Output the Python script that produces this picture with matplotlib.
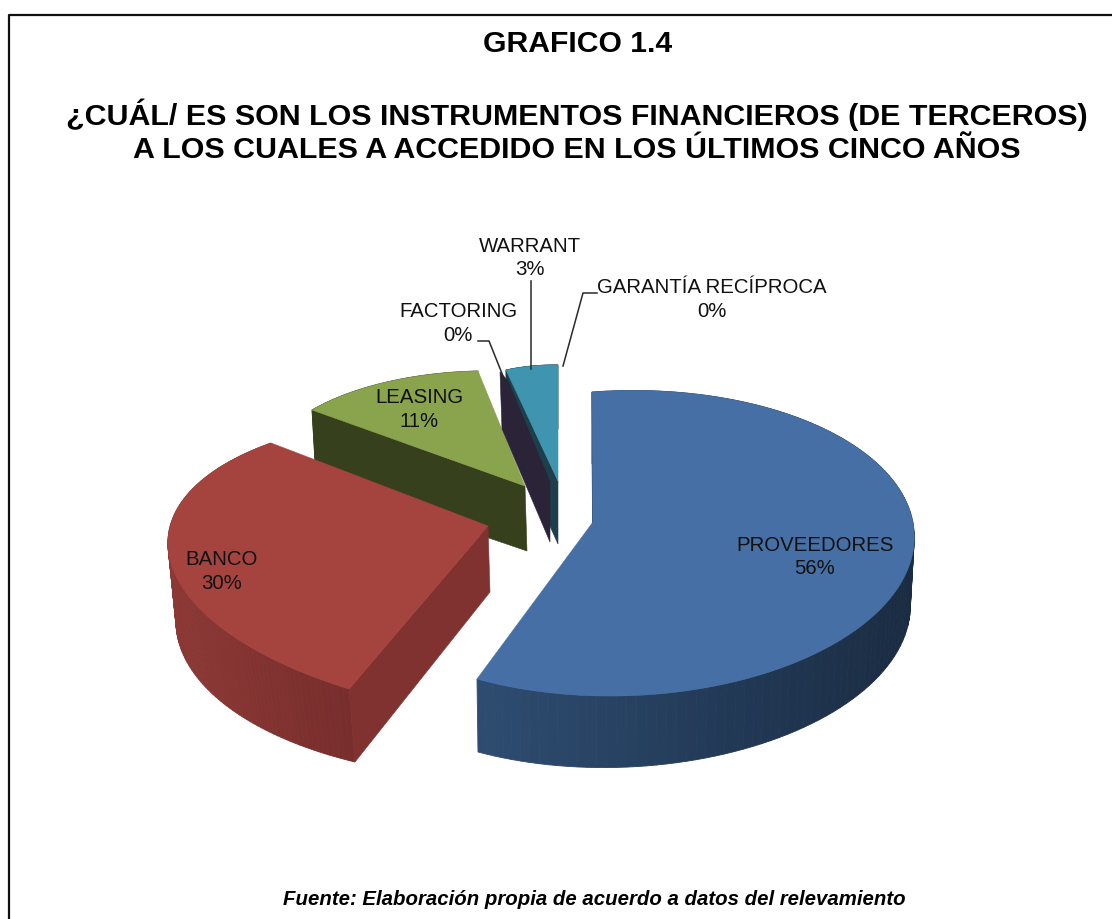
import numpy as np
import matplotlib
matplotlib.use('Agg')
import matplotlib.pyplot as plt
from matplotlib.colors import to_rgb
from matplotlib.patches import Polygon

plt.rcParams['font.family'] = ['Liberation Sans', 'DejaVu Sans']

# datos
categorias = ['PROVEEDORES', 'BANCO', 'LEASING', 'FACTORING', 'WARRANT', 'GARANTÍA RECÍPROCA']
valores = [56, 30, 11, 0, 3, 0]

color_cara = ['#4670A5', '#A5433F', '#8AA34D', '#2B2338', '#3F95AF', '#3F95AF']
color_corte = ['#2C4A6E', '#7F3230', '#37401C', '#2B2338', '#1C3F4B', '#1C3F4B']
pared_der = ['#1A2C42', '#772E2C', '#37401C', '#2B2338', '#1C3F4B', '#1C3F4B']
pared_izq = ['#2E4D72', '#8C3835', '#37401C', '#2B2338', '#1C3F4B', '#1C3F4B']

# posicion de cada porcion en pantalla: centro, borde inicial, borde final, punto medio del arco
arriba = {
    0: [(593, 523), (592, 393), (477, 680), (914, 545)],
    1: [(488, 527), (349, 690), (271, 444), (168, 548)],
    2: [(525, 487), (312, 411), (478, 372), (387, 383)],
    4: [(558, 482), (506, 371), (558, 366), (532, 367)],
}
abajo = {
    0: [(593, 595), (592, 465), (478, 753), (910, 614)],
    1: [(490, 593), (355, 763), (272, 510), (177, 635)],
    2: [(527, 552), (316, 480), (480, 437), (391, 448)],
    4: [(558, 545), (507, 432), (558, 430), (532, 430)],
}
cara_factoring = [(500, 373), (508, 382), (550, 483), (550, 543), (502, 430)]

# posicion de etiquetas
pos_nombre = [(815, 546), (222, 560), (419, 398), (458, 312), (530, 246), (712, 288)]
pos_valor = [(815, 569), (222, 584), (419, 422), (458, 336), (530, 270), (712, 312)]
guias = {
    3: [(478, 342), (489, 342), (505, 382)],
    4: [(531, 282), (531, 370)],
    5: [(597, 294), (583, 294), (563, 367)],
}


def homografia(src, dst):
    A = []
    b = []
    for (x, y), (u, v) in zip(src, dst):
        A.append([x, y, 1, 0, 0, 0, -u * x, -u * y])
        A.append([0, 0, 0, x, y, 1, -v * x, -v * y])
        b.extend([u, v])
    h = np.linalg.solve(np.array(A, float), np.array(b, float))
    return np.append(h, 1).reshape(3, 3)


def proyectar(H, th):
    p = H @ np.array([np.sin(th), np.cos(th), np.ones_like(th)])
    return np.column_stack([p[0] / p[2], p[1] / p[2]])


def mezcla(c1, c2, t):
    return tuple((1 - t) * np.array(to_rgb(c1)) + t * np.array(to_rgb(c2)))


def dibujar_porcion(ax, i, t1, t2):
    tm = (t1 + t2) / 2
    src = [(0, 0), (np.sin(t1), np.cos(t1)), (np.sin(t2), np.cos(t2)), (np.sin(tm), np.cos(tm))]
    Ha = homografia(src, arriba[i])
    Hb = homografia(src, abajo[i])
    th = np.linspace(t1, t2, 120)
    sup = proyectar(Ha, th)
    inf = proyectar(Hb, th)
    x0, x1 = sup[:, 0].min(), sup[:, 0].max()
    # pared exterior, el degradado va de derecha a izquierda
    for k in range(len(th) - 1):
        col = mezcla(pared_der[i], pared_izq[i], (x1 - sup[k, 0]) / (x1 - x0))
        ax.add_patch(Polygon([sup[k], sup[k + 1], inf[k + 1], inf[k]], fc=col, ec=col, lw=0.6))
    # cara cortada
    ax.add_patch(Polygon([arriba[i][1], arriba[i][0], abajo[i][0], abajo[i][1]],
                         fc=color_corte[i], ec=color_corte[i], lw=0.4))
    # cara superior
    ax.add_patch(Polygon(np.vstack([[arriba[i][0]], sup]), fc=color_cara[i], ec=color_cara[i], lw=0.4))


fig = plt.figure(figsize=(11.12, 9.2), dpi=100)
ax = fig.add_axes([0, 0, 1, 1])
ax.set_xlim(0, 1112)
ax.set_ylim(920, 0)
ax.axis('off')

# marco
ax.plot([8.5, 8.5, 1112], [920, 15.5, 15.5], color='#111111', lw=1.6, solid_capstyle='butt')

acum = np.cumsum([0] + valores) / sum(valores) * 2 * np.pi
orden = [2, 4, 3, 1, 0]
for i in orden:
    if valores[i] == 0:
        ax.add_patch(Polygon(cara_factoring, fc=color_corte[i], ec=color_corte[i], lw=0.4))
    else:
        dibujar_porcion(ax, i, acum[i], acum[i + 1])

for i, g in guias.items():
    g = np.array(g)
    ax.plot(g[:, 0], g[:, 1], color='#2A2A2A', lw=1.1)

for i, c in enumerate(categorias):
    ax.text(pos_nombre[i][0], pos_nombre[i][1], c, ha='center', va='center', fontsize=14.7, color='#111111')
    ax.text(pos_valor[i][0], pos_valor[i][1], f'{valores[i]}%', ha='center', va='center', fontsize=14.7, color='#111111')

ax.text(578, 44, 'GRAFICO 1.4', ha='center', va='center', fontsize=21.7, fontweight='bold')
ax.text(577, 115, '¿CUÁL/ ES SON LOS INSTRUMENTOS FINANCIEROS (DE TERCEROS)', ha='center', va='center',
        fontsize=21.9, fontweight='bold')
ax.text(577, 150, 'A LOS CUALES A ACCEDIDO EN LOS ÚLTIMOS CINCO AÑOS', ha='center', va='center',
        fontsize=21.9, fontweight='bold')
ax.text(594, 900, 'Fuente: Elaboración propia de acuerdo a datos del relevamiento', ha='center', va='center',
        fontsize=14.7, fontweight='bold', fontstyle='italic')

fig.savefig('out.png', dpi=100)
